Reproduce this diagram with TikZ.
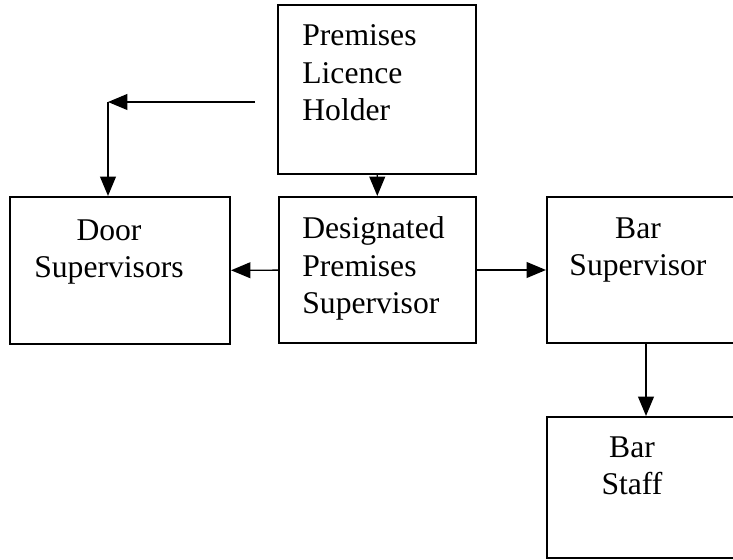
\documentclass[tikz,border=0pt]{standalone}
\usepackage{fontspec}
\setmainfont{Liberation Serif}
\usetikzlibrary{arrows.meta}

\begin{document}
\begin{tikzpicture}[x=0.02cm, y=-0.02cm,
		box/.style = {draw, line width=1.2pt, inner sep=0},
		words/.style = {inner sep=0, font=\fontsize{18}{21.5}\selectfont},
		link/.style = {line width=0.8pt, -{Triangle[length=11pt, width=9pt]}}]
			\useasboundingbox (0, 0) rectangle (733, 560);
			\clip (0, 0) rectangle (733, 560);
			% part for the boxes
			\begin{scope}
				\node[box, minimum width=3.96cm, minimum height=3.38cm] (plh) at (377, 89.5) {};
				\node[box, minimum width=3.94cm, minimum height=2.92cm] (dps) at (377.5, 270) {};
				\node[box, minimum width=4.4cm, minimum height=2.94cm] (door) at (120, 270.5) {};
				\node[box, minimum width=3.96cm, minimum height=2.92cm] (bar) at (646, 270) {};
				\node[box, minimum width=3.96cm, minimum height=2.82cm] (staff) at (646, 487.5) {};
			\end{scope}
			% part for the texts
			\begin{scope}[every node/.style = words]
				\node[anchor=north west, align=left] (plh-txt) at (302, 24) {Premises\\Licence\\Holder};
				\node[anchor=north west, align=left] (dps-txt) at (302, 216) {Designated\\Premises\\Supervisor};
				\node[anchor=north, align=center] (door-txt) at (109, 219) {Door\\Supervisors};
				\node[anchor=north, align=center] (bar-txt) at (638, 217) {Bar\\Supervisor};
				\node[anchor=north, align=center] (staff-txt) at (632, 436) {Bar\\Staff};
			\end{scope}
			% arrows
			\coordinate (feed) at (255, 102);
			\coordinate (corner) at (108, 102);
			\draw[link] (plh) -- (dps);
			\draw[link] (feed) -- (corner);
			\draw[link] (corner) -- (corner |- door.north);
			\draw[link] (dps) -- (door);
			\draw[link] (dps) -- (bar);
			\draw[link] (bar) -- (staff);
		\end{tikzpicture}
\end{document}
